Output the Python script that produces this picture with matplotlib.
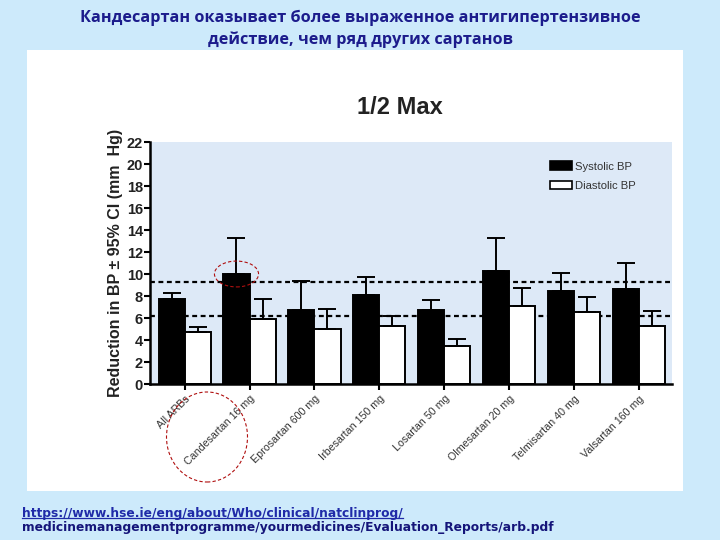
import numpy as np
import matplotlib
matplotlib.use("Agg")
import matplotlib.pyplot as plt
from matplotlib.patches import Patch, Ellipse, Rectangle
from matplotlib.lines import Line2D

# Data

drugs = [
    "All ARBs",
    "Candesartan 16 mg",
    "Eprosartan 600 mg",
    "Irbesartan 150 mg",
    "Losartan 50 mg",
    "Olmesartan 20 mg",
    "Telmisartan 40 mg",
    "Valsartan 160 mg",
]

systolic = [7.7, 10.0, 6.75, 8.1, 6.7, 10.25, 8.45, 8.65]
systolic_ci_top = [8.3, 13.3, 9.35, 9.75, 7.65, 13.25, 10.1, 11.0]

diastolic = [4.75, 5.9, 5.0, 5.25, 3.45, 7.05, 6.55, 5.25]
diastolic_ci_top = [5.15, 7.75, 6.85, 6.2, 4.1, 8.7, 7.95, 6.6]

ref_lines = [9.3, 6.2]

yticks = list(range(0, 23, 2))

slide_title = ("Кандесартан оказывает более выраженное антигипертензивное\n"
               "действие, чем ряд других сартанов")
url_line1 = "https://www.hse.ie/eng/about/Who/clinical/natclinprog/"
url_line2 = "medicinemanagementprogramme/yourmedicines/Evaluation_Reports/arb.pdf"

# Figure

fig = plt.figure(figsize=(7.2, 5.4), dpi=100)
fig.patch.set_facecolor("#cdeafb")

# white picture panel
fig.patches.append(Rectangle(
    (27 / 720, 1 - 491 / 540), 656 / 720, 441 / 540,
    transform=fig.transFigure, facecolor="white", edgecolor="none", zorder=-5
))

fig.text(
    0.5, 1 - 29 / 540, slide_title,
    ha="center", va="center", fontsize=11.7, fontweight="bold",
    color="#1c1c8c", family="Open Sans", linespacing=1.45
)

ax = fig.add_axes([150 / 720, 1 - 384 / 540, 522 / 720, 242 / 540])
ax.set_facecolor("#dde9f7")

x = np.arange(len(drugs))
w = 0.403

systolic = np.array(systolic)
diastolic = np.array(diastolic)

for v in ref_lines:
    ax.axhline(v, color="black", linestyle=(0, (2.2, 1.6)), linewidth=1.6, zorder=1)

ax.bar(x - w / 2, systolic, w, color="black", edgecolor="black",
       linewidth=1.4, zorder=2)
ax.bar(x + w / 2, diastolic, w, color="white", edgecolor="black",
       linewidth=1.4, zorder=2)

ax.errorbar(x - w / 2, systolic,
            yerr=[np.zeros(len(x)), np.array(systolic_ci_top) - systolic],
            fmt="none", ecolor="black", elinewidth=1.4, capsize=6.5,
            capthick=1.4, zorder=3)
ax.errorbar(x + w / 2, diastolic,
            yerr=[np.zeros(len(x)), np.array(diastolic_ci_top) - diastolic],
            fmt="none", ecolor="black", elinewidth=1.4, capsize=6.5,
            capthick=1.4, zorder=3)

ax.set_xlim(-0.535, 7.513)
ax.set_ylim(0, 22)

ax.set_yticks(yticks)
ax.set_yticklabels([str(t) for t in yticks], fontsize=10.5,
                   fontweight="bold", family="Liberation Sans", color="#222222")
ax.set_xticks(x)
ax.set_xticklabels(drugs, rotation=45, ha="right", rotation_mode="anchor",
                   fontsize=7.7, family="Liberation Sans", color="#333333")

ax.tick_params(axis="y", length=4, width=1.5, pad=1)
ax.tick_params(axis="x", length=4, width=1.5, pad=3)

for side in ["top", "right"]:
    ax.spines[side].set_visible(False)
for side in ["left", "bottom"]:
    ax.spines[side].set_linewidth(1.8)

ax.set_ylabel("Reduction in BP ± 95% CI (mm  Hg)", fontsize=11.5,
              fontweight="bold", family="Liberation Sans", color="#222222",
              labelpad=3)

fig.text(400 / 720, 1 - 108 / 540, "1/2 Max", ha="center", va="center",
         fontsize=17, fontweight="bold", family="Liberation Sans",
         color="#222222")

handles = [
    Patch(facecolor="black", edgecolor="black", linewidth=1.2),
    Patch(facecolor="white", edgecolor="black", linewidth=1.2),
]
ax.legend(handles, ["Systolic BP", "Diastolic BP"], loc="upper left",
          bbox_to_anchor=(0.766, 0.92), frameon=False,
          handlelength=2.0, handleheight=0.8, handletextpad=0.2,
          labelspacing=0.8, borderpad=0, borderaxespad=0,
          labelcolor="#333333", prop={"family": "Liberation Sans", "size": 8.1})

# red dashed highlight marks
ax.add_patch(Ellipse((1 - w / 2, systolic[1]), 0.68, 2.35, fill=False,
                     edgecolor="#b01010", linestyle=(0, (3, 2)), linewidth=0.8,
                     zorder=4, clip_on=False))
fig.patches.append(Ellipse((207 / 720, 1 - 437 / 540), 81 / 720, 90 / 540,
                           transform=fig.transFigure, fill=False,
                           edgecolor="#b01010", linestyle=(0, (3, 2)),
                           linewidth=0.8, zorder=4))

# source link
t1 = fig.text(22 / 720, 1 - 513 / 540, url_line1, ha="left", va="center",
              fontsize=8.8, fontweight="bold", family="DejaVu Sans",
              color="#1f2aa8")
fig.text(22 / 720, 1 - 528 / 540, url_line2, ha="left", va="center",
         fontsize=8.8, fontweight="bold", family="DejaVu Sans",
         color="#15157a")

fig.canvas.draw()
bb = t1.get_window_extent().transformed(fig.transFigure.inverted())
fig.add_artist(Line2D([bb.x0, bb.x1], [bb.y0 + 0.002, bb.y0 + 0.002],
                      transform=fig.transFigure, color="#1f2aa8",
                      linewidth=0.9))

fig.savefig("out.png", dpi=100, facecolor=fig.get_facecolor())
plt.close(fig)
